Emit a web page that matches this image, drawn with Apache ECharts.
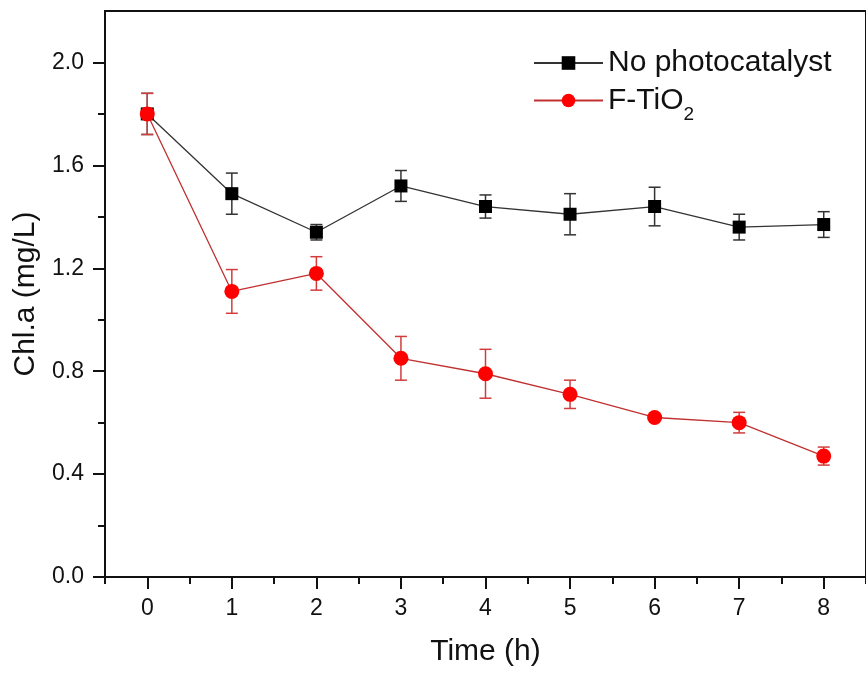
<!DOCTYPE html>
<html>
<head>
<meta charset="utf-8">
<script src="https://cdn.jsdelivr.net/npm/echarts@6/dist/echarts.min.js"></script>
<style>
  html, body { margin: 0; padding: 0; background: #fff; }
  #chart { width: 866px; height: 673px; }
</style>
</head>
<body>
<div id="chart"></div>
<script>
var times = [0, 1, 2, 3, 4, 5, 6, 7, 8];
var noCat = [1.80, 1.49, 1.34, 1.52, 1.44, 1.41, 1.44, 1.36, 1.37];
var noCatErr = [0.08, 0.08, 0.03, 0.06, 0.045, 0.08, 0.075, 0.05, 0.05];
var fTiO2 = [1.80, 1.11, 1.18, 0.85, 0.79, 0.71, 0.62, 0.60, 0.47];
var fTiO2Err = [0.08, 0.085, 0.065, 0.085, 0.095, 0.055, 0.01, 0.04, 0.035];

var xTicks = [0, 1, 2, 3, 4, 5, 6, 7, 8];
var xMinorTicks = [-0.5, 0.5, 1.5, 2.5, 3.5, 4.5, 5.5, 6.5, 7.5, 8.5];
var yTicks = [0, 0.4, 0.8, 1.2, 1.6, 2.0];
var yMinorTicks = [0.2, 0.6, 1.0, 1.4, 1.8];

var font = "'Liberation Sans', Arial, sans-serif";

function pairs(vals) {
	return times.map(function (t, i) { return [t, vals[i]]; });
}
function bars(vals, errs) {
	return times.map(function (t, i) { return [t, vals[i] - errs[i], vals[i] + errs[i]]; });
}
// vertical error bar with caps, positioned through the axes
function errorBar(color) {
	return function (params, api) {
		var lo = api.coord([api.value(0), api.value(1)]);
		var hi = api.coord([api.value(0), api.value(2)]);
		var w = 6;
		var st = { stroke: color, lineWidth: 1.5 };
		return {
			type: 'group',
			children: [
				{ type: 'line', shape: { x1: lo[0], y1: lo[1], x2: hi[0], y2: hi[1] }, style: st },
				{ type: 'line', shape: { x1: lo[0] - w, y1: lo[1], x2: lo[0] + w, y2: lo[1] }, style: st },
				{ type: 'line', shape: { x1: hi[0] - w, y1: hi[1], x2: hi[0] + w, y2: hi[1] }, style: st }
			]
		};
	};
}

var myChart = echarts.init(document.getElementById('chart'));
var option = {
	animation: false,
	textStyle: { fontFamily: font, color: '#111' },
	grid: {
		left: 105, right: -6, top: 11, bottom: 96,
		show: true, borderColor: '#111', borderWidth: 2, backgroundColor: 'transparent'
	},
	legend: {
		orient: 'vertical',
		left: 533, top: 48, padding: 0,
		itemWidth: 69, itemHeight: 17, itemGap: -1,
		data: ['No photocatalyst', 'F-TiO2'],
		formatter: function (name) {
			return name === 'F-TiO2' ? '{n|F-TiO}{s|2}' : '{n|' + name + '}';
		},
		textStyle: {
			fontFamily: font, color: '#111',
			rich: {
				n: { fontSize: 30, lineHeight: 47, fontFamily: font, color: '#111' },
				s: { fontSize: 19, lineHeight: 19, fontFamily: font, color: '#111', padding: [28, 0, 0, 0] }
			}
		}
	},
	xAxis: [
		{
			type: 'value', min: -0.5, max: 8.5, position: 'bottom',
			name: 'Time (h)', nameLocation: 'middle', nameGap: 60,
			nameTextStyle: { fontSize: 30, fontFamily: font, color: '#111' },
			axisLine: { show: true, onZero: false, lineStyle: { color: '#111', width: 2 } },
			axisTick: { show: true, length: 12, lineStyle: { color: '#111', width: 2 }, customValues: xTicks },
			axisLabel: { fontSize: 23, margin: 20, color: '#111', fontFamily: font, customValues: xTicks },
			splitLine: { show: false }
		},
		{
			type: 'value', min: -0.5, max: 8.5, position: 'bottom',
			axisLine: { show: false, onZero: false },
			axisTick: { show: true, length: 7, lineStyle: { color: '#111', width: 2 }, customValues: xMinorTicks },
			axisLabel: { show: false },
			splitLine: { show: false }
		}
	],
	yAxis: [
		{
			type: 'value', min: 0, max: 2.2, position: 'left',
			name: 'Chl.a (mg/L)', nameLocation: 'middle', nameGap: 64,
			nameTextStyle: { fontSize: 30, fontFamily: font, color: '#111' },
			axisLine: { show: true, onZero: false, lineStyle: { color: '#111', width: 2 } },
			axisTick: { show: true, length: 12, lineStyle: { color: '#111', width: 2 }, customValues: yTicks },
			axisLabel: {
				fontSize: 23, margin: 21, color: '#111', fontFamily: font, customValues: yTicks,
				formatter: function (v) { return v.toFixed(1); }
			},
			splitLine: { show: false }
		},
		{
			type: 'value', min: 0, max: 2.2, position: 'left',
			axisLine: { show: false, onZero: false },
			axisTick: { show: true, length: 7, lineStyle: { color: '#111', width: 2 }, customValues: yMinorTicks },
			axisLabel: { show: false },
			splitLine: { show: false }
		}
	],
	series: [
		{
			name: 'noCatErr', type: 'custom', renderItem: errorBar('#333'),
			data: bars(noCat, noCatErr), encode: { x: 0, y: [1, 2] }, z: 2, silent: true
		},
		{
			name: 'No photocatalyst', type: 'line', data: pairs(noCat),
			symbol: 'rect', symbolSize: 13,
			itemStyle: { color: '#000' },
			lineStyle: { color: '#333', width: 1.3 }, z: 3
		},
		{
			name: 'fTiO2Err', type: 'custom', renderItem: errorBar('#d23c3c'),
			data: bars(fTiO2, fTiO2Err), encode: { x: 0, y: [1, 2] }, z: 4, silent: true
		},
		{
			name: 'F-TiO2', type: 'line', data: pairs(fTiO2),
			symbol: 'circle', symbolSize: 15,
			itemStyle: { color: '#ff0000' },
			lineStyle: { color: '#c03030', width: 1.3 }, z: 5
		}
	]
};
myChart.setOption(option);
window.onresize = myChart.resize;
</script>
</body>
</html>
